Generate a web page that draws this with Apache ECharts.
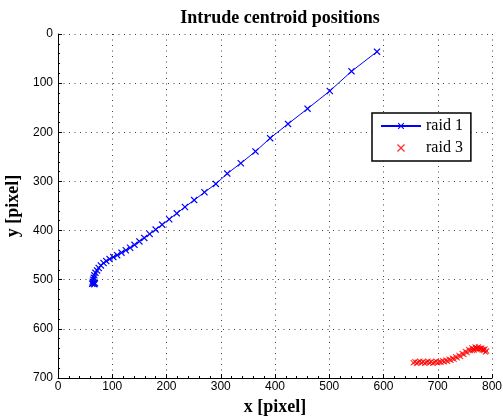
<!DOCTYPE html>
<html>
<head>
<meta charset="utf-8">
<script src="https://cdn.jsdelivr.net/npm/echarts@6/dist/echarts.min.js"></script>
<style>html,body{margin:0;padding:0;background:#fff;}#c{width:503px;height:416px;}</style>
</head>
<body>
<div id="c"></div>
<script>
var titleText = 'Intrude centroid positions';
var xName = 'x [pixel]';
var yName = 'y [pixel]';
var xTicks = [0, 100, 200, 300, 400, 500, 600, 700, 800];
var yTicks = [0, 100, 200, 300, 400, 500, 600, 700];

var raid1Name = 'raid 1';
var raid1 = [
  [68,507],[63,508],[67,509],[65,507],[64,504],[65,500],[66,496],[67,491],[69,486],
  [72,481],[75,476],[79,471],[84,466],[89,462],[95,458],[102,454],[109,450],[117,445],
  [125,440],[133,435],[141,429],[150,422],[159,415],[169,407],[180,398],[192,388],
  [205,377],[219,365],[234,352],[251,338],[270,322],[291,305],[312,284],[337,263],
  [364,239],[391,212],[424,183],[460,152],[501,116],[541,76],[588,36]
];

var raid3Name = 'raid 3';
var raid3 = [
  [655,669],[658,667],[661,670],[664,668],[667,666],[670,669],[673,667],[676,670],
  [679,668],[682,666],[685,669],[688,667],[691,670],[694,668],[697,666],[700,669],
  [703,667],[706,668],[709,665],[712,667],[715,664],[718,666],[721,662],[724,664],
  [727,660],[730,662],[733,657],[736,659],[739,654],[742,656],[745,650],[748,652],
  [751,646],[754,648],[757,642],[760,644],[763,639],[766,641],[769,637],[772,639],
  [775,637],[778,640],[781,639],[784,642],[787,641],[790,645],[788,647],[785,644],
  [782,643],[779,641],[776,640],[773,641],[770,640],[767,643],[764,644]
];

var crossPath = 'path://M0,1.2L1.2,0L5,3.8L8.8,0L10,1.2L6.2,5L10,8.8L8.8,10L5,6.2L1.2,10L0,8.8L3.8,5Z';
var tickFont = 'Liberation Sans, Arial, sans-serif';
var serif = 'Liberation Serif, Times New Roman, serif';

var chart = echarts.init(document.getElementById('c'), null, {renderer: 'canvas'});
chart.setOption({
  animation: false,
  backgroundColor: '#fff',
  title: {
    text: titleText, left: 275, top: 4, textAlign: 'center',
    textStyle: {fontFamily: serif, fontWeight: 'bold', fontSize: 18, color: '#000'}
  },
  legend: {
    left: 372, top: 113, orient: 'vertical',
    backgroundColor: '#fff', borderColor: '#000', borderWidth: 1.5, borderRadius: 0,
    padding: [5, 8, 5, 8], itemGap: 6, itemWidth: 40, itemHeight: 8,
    textStyle: {fontFamily: serif, fontSize: 16, color: '#000'},
    data: [raid1Name, raid3Name]
  },
  grid: {left: 58, right: 11, top: 34, bottom: 38, containLabel: false, outerBoundsMode: 'none'},
  xAxis: {
    type: 'value', min: xTicks[0], max: xTicks[xTicks.length - 1], interval: 100,
    name: xName, nameLocation: 'middle', nameGap: 18,
    nameTextStyle: {fontFamily: serif, fontWeight: 'bold', fontSize: 18, color: '#000'},
    axisLine: {show: true, onZero: false, lineStyle: {color: '#000', width: 1}},
    axisTick: {show: true, inside: true, length: 4, lineStyle: {color: '#000'}},
    minorTick: {show: true, splitNumber: 5, length: 2, lineStyle: {color: '#000'}},
    axisLabel: {fontFamily: tickFont, fontSize: 12, color: '#000', margin: 3},
    splitLine: {show: true, lineStyle: {color: '#444', type: [1, 4.5], width: 1}}
  },
  yAxis: {
    type: 'value', inverse: true, min: yTicks[0], max: yTicks[yTicks.length - 1], interval: 100,
    name: yName, nameLocation: 'middle', nameGap: 33, nameRotate: 90,
    nameTextStyle: {fontFamily: serif, fontWeight: 'bold', fontSize: 18, color: '#000'},
    axisLine: {show: true, onZero: false, lineStyle: {color: '#000', width: 1}},
    axisTick: {show: true, inside: true, length: 4, lineStyle: {color: '#000'}},
    minorTick: {show: true, splitNumber: 5, length: 2, lineStyle: {color: '#000'}},
    axisLabel: {fontFamily: tickFont, fontSize: 12, color: '#000', margin: 5},
    splitLine: {show: true, lineStyle: {color: '#444', type: [1, 4.5], width: 1}}
  },
  series: [
    {
      name: raid1Name, type: 'line', data: raid1,
      symbol: crossPath, symbolSize: 7, showAllSymbol: true,
      itemStyle: {color: '#0000ff'},
      lineStyle: {color: '#0000ff', width: 1},
      emphasis: {disabled: true}
    },
    {
      name: raid3Name, type: 'scatter', data: raid3,
      symbol: crossPath, symbolSize: 6,
      itemStyle: {color: '#ff0000'},
      emphasis: {disabled: true}
    }
  ]
});
</script>
</body>
</html>
